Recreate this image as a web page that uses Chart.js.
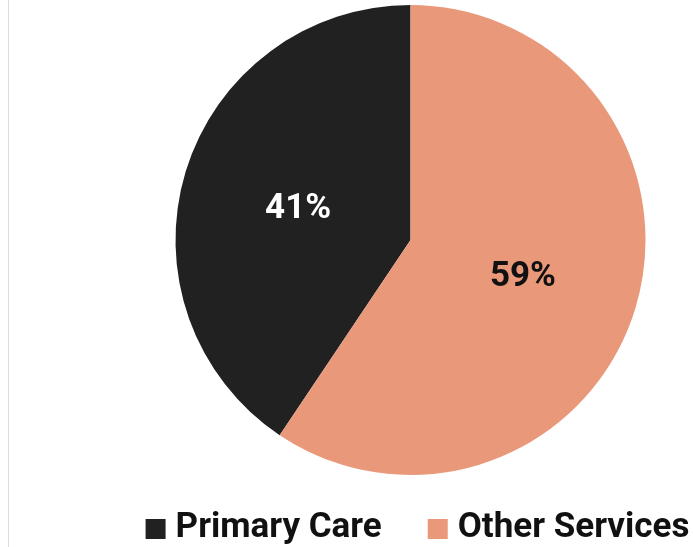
<!DOCTYPE html>
<html>
<head>
<meta charset="utf-8">
<script src="https://cdn.jsdelivr.net/npm/chart.js@4"></script>
<style>
  html, body { margin: 0; padding: 0; background: #fff; }
  #wrap { position: relative; width: 693px; height: 547px; }
  #rule { position: absolute; left: 8px; top: 0; width: 1px; height: 547px; background: #dcdcdc; }
</style>
</head>
<body>
<div id="wrap">
  <div id="rule"></div>
  <canvas id="myChart" width="693" height="547"></canvas>
</div>
<script>
const labels = ["Primary Care", "Other Services"];
const shares = [40.6, 59.4];
const colors = ["#212121", "#E9987A"];
const labelColors = ["#ffffff", "#111111"];

// draw the rounded percentages in the middle of each slice
const sliceLabels = {
  id: 'sliceLabels',
  afterDatasetsDraw(chart) {
    const ctx = chart.ctx;
    const meta = chart.getDatasetMeta(0);
    ctx.save();
    ctx.font = 'bold 35px Roboto';
    ctx.textAlign = 'center';
    ctx.textBaseline = 'middle';
    meta.data.forEach((arc, i) => {
      const p = arc.getCenterPoint();
      ctx.fillStyle = labelColors[i];
      ctx.fillText(Math.round(shares[i]) + '%', p.x, p.y + 3);
    });
    ctx.restore();
  }
};

// one-row legend under the pie (the built-in one wraps at this font size)
const bottomLegend = {
  id: 'bottomLegend',
  afterDraw(chart) {
    const ctx = chart.ctx;
    const box = 20, gap = 10, itemGap = 46;
    ctx.save();
    ctx.font = 'bold 35px Roboto';
    ctx.textBaseline = 'middle';
    const widths = labels.map(l => ctx.measureText(l).width);
    const total = widths.reduce((a, w) => a + box + gap + w, 0) + itemGap * (labels.length - 1);
    let x = chart.chartArea.left + chart.chartArea.width / 2 + 7 - total / 2;
    const y = chart.chartArea.bottom + 54;
    labels.forEach((l, i) => {
      ctx.fillStyle = colors[i];
      ctx.fillRect(x, y - box / 2, box, box);
      ctx.fillStyle = '#111';
      ctx.fillText(l, x + box + gap, y - 1);
      x += box + gap + widths[i] + itemGap;
    });
    ctx.restore();
  }
};

const config = {
  type: 'pie',
  data: {
    labels: labels,
    datasets: [{
      data: shares,
      backgroundColor: colors,
      borderWidth: 0
    }]
  },
  options: {
    responsive: false,
    animation: false,
    rotation: shares[1] / 100 * 360, // orange slice starts at 12 o'clock
    layout: {
      padding: { left: 128, top: 5, bottom: 72 }
    },
    plugins: {
      legend: { display: false },
      tooltip: { enabled: false }
    }
  },
  plugins: [sliceLabels, bottomLegend]
};
new Chart(document.getElementById('myChart'), config);
</script>
</body>
</html>
